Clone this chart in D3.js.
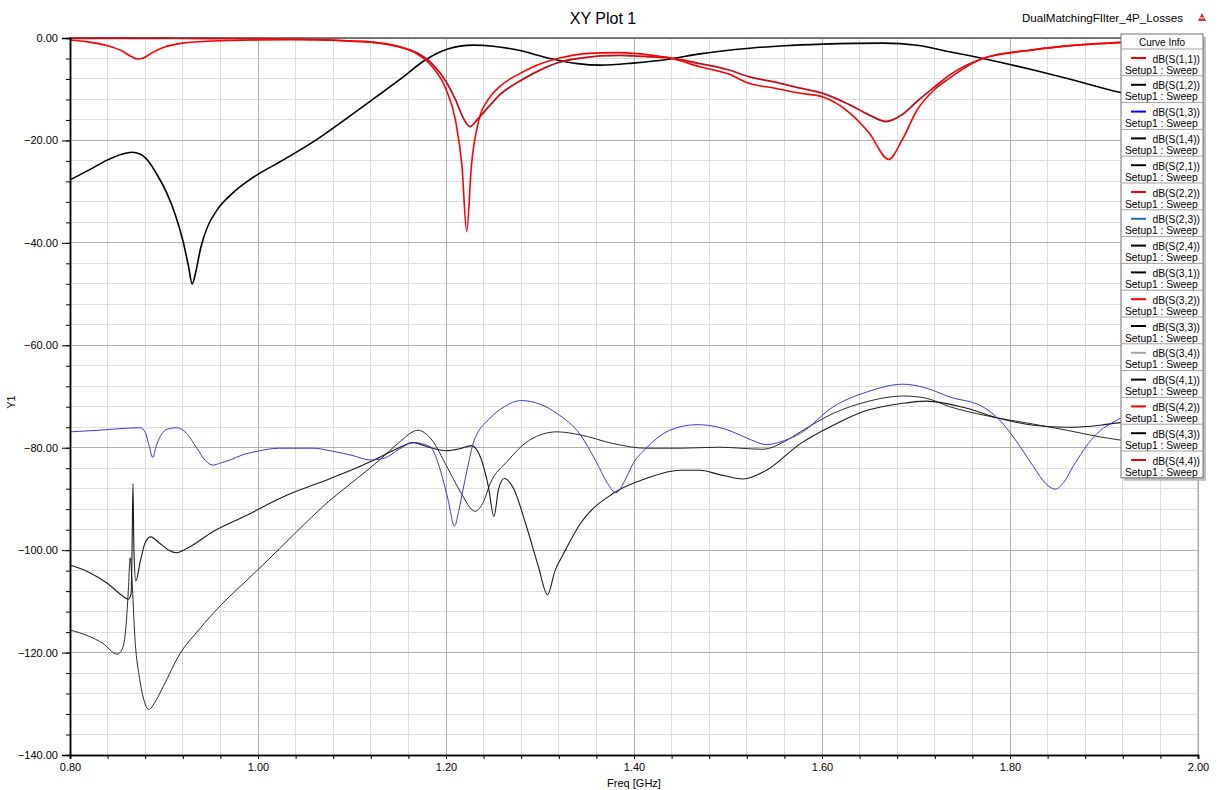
<!DOCTYPE html>
<html><head><meta charset="utf-8">
<script src="https://cdn.jsdelivr.net/npm/d3@7/dist/d3.min.js"></script>
<style>
body{margin:0;background:#fff;}
svg{display:block;font-family:"Liberation Sans",Arial,sans-serif;}
</style>
</head><body>
<svg id="chart" width="1220" height="790"></svg>
<script>
// ---------- data ----------
const xTicks = [0.8, 1.0, 1.2, 1.4, 1.6, 1.8, 2.0];
const yTicks = [0, -20, -40, -60, -80, -100, -120, -140];
const legendNames = ["dB(S(1,1))","dB(S(1,2))","dB(S(1,3))","dB(S(1,4))","dB(S(2,1))","dB(S(2,2))","dB(S(2,3))","dB(S(2,4))",
                     "dB(S(3,1))","dB(S(3,2))","dB(S(3,3))","dB(S(3,4))","dB(S(4,1))","dB(S(4,2))","dB(S(4,3))","dB(S(4,4))"];
const legendColors = ["#ff0000","#000000","#0000ff","#000000","#000000","#ff0000","#1a7aa6","#000000",
                      "#000000","#ff0000","#000000","#a8a8a8","#000000","#ff0000","#000000","#ff0000"];
const sweepLabel = "Setup1 : Sweep";

// reflection (bright red)
const s11 = [[0.800,-0.4],[0.820,-0.8],[0.840,-1.5],[0.855,-2.5],[0.865,-3.6],[0.872,-4.1],[0.878,-3.9],[0.888,-2.8],
  [0.900,-1.8],[0.920,-1.0],[0.950,-0.6],[1.000,-0.4],[1.050,-0.35],[1.100,-0.6],[1.130,-1.0],[1.150,-1.7],[1.170,-3.2],
  [1.185,-5.5],[1.200,-10],[1.210,-16],[1.217,-25],[1.222,-37.8],[1.227,-25],[1.235,-16],[1.245,-12],[1.257,-9.5],
  [1.275,-7.3],[1.293,-5.6],[1.321,-3.9],[1.345,-3.1],[1.364,-2.9],[1.385,-2.85],[1.400,-3.0],[1.420,-3.4],[1.438,-3.9],
  [1.470,-5.6],[1.500,-7.0],[1.523,-8.9],[1.550,-9.8],[1.577,-10.8],[1.601,-11.5],[1.630,-14.7],[1.650,-18.5],[1.671,-23.7],
  [1.685,-20],[1.701,-14.1],[1.720,-10],[1.736,-7.8],[1.771,-4.0],[1.825,-2.3],[1.870,-1.4],[1.914,-0.9],[1.960,-0.6],[2.000,-0.4]];
// reflection (dark red)
const s22 = [[0.800,-0.05],[0.900,-0.05],[0.950,-0.1],[1.000,-0.15],[1.050,-0.25],[1.100,-0.6],[1.130,-1.0],[1.150,-1.7],
  [1.170,-3.0],[1.185,-5.0],[1.200,-8.5],[1.210,-12],[1.218,-15.5],[1.2255,-17.3],[1.233,-16],[1.245,-13.5],[1.257,-11.1],
  [1.275,-8.8],[1.293,-6.9],[1.321,-4.7],[1.345,-3.9],[1.364,-3.5],[1.385,-3.4],[1.400,-3.5],[1.420,-3.7],[1.438,-3.9],
  [1.470,-5.0],[1.500,-6.2],[1.523,-7.6],[1.550,-8.6],[1.577,-9.8],[1.601,-10.8],[1.630,-13.1],[1.650,-15.0],[1.668,-16.3],
  [1.685,-15.0],[1.701,-12.4],[1.720,-9.5],[1.736,-7.2],[1.771,-4.0],[1.825,-2.3],[1.870,-1.4],[1.914,-0.9],[1.960,-0.6],[2.000,-0.4]];
// transmission (black)
const s12 = [[0.800,-27.7],[0.820,-25.8],[0.840,-23.8],[0.855,-22.7],[0.866,-22.3],[0.875,-22.7],[0.884,-24.2],[0.893,-26.8],
  [0.903,-30.3],[0.912,-34.5],[0.920,-39.5],[0.926,-44.5],[0.930,-48.0],[0.934,-45.5],[0.939,-41.0],[0.946,-37.0],[0.956,-33.7],
  [0.973,-30.3],[0.991,-27.7],[1.027,-23.8],[1.062,-19.9],[1.098,-15.2],[1.125,-11.6],[1.151,-8.1],[1.178,-4.3],[1.201,-2.2],[1.229,-1.4],
  [1.250,-1.6],[1.275,-2.3],[1.311,-4.0],[1.340,-5.0],[1.364,-5.3],[1.399,-4.9],[1.435,-4.2],[1.470,-3.1],[1.523,-2.0],
  [1.560,-1.5],[1.601,-1.2],[1.665,-1.0],[1.701,-1.4],[1.736,-2.7],[1.771,-4.0],[1.825,-6.25],[1.861,-7.9],[1.914,-10.5],
  [1.960,-12.2],[2.000,-13.6]];
// isolation (blue)
const s13 = [[0.800,-76.9],[0.830,-76.6],[0.860,-76.2],[0.875,-76.1],[0.880,-77],[0.884,-79.5],[0.888,-81.9],[0.892,-79.5],
  [0.898,-77.2],[0.905,-76.3],[0.913,-76.1],[0.922,-76.8],[0.935,-80.1],[0.944,-82.5],[0.952,-83.4],[0.960,-83.0],[0.970,-82.4],
  [0.985,-81.3],[0.999,-80.7],[1.023,-80.1],[1.059,-80.1],[1.077,-80.6],[1.100,-81.5],[1.120,-82.4],[1.135,-82.0],[1.150,-80.3],
  [1.165,-79.0],[1.183,-79.8],[1.194,-84.4],[1.202,-90],[1.209,-95.3],[1.214,-92],[1.218,-88.3],[1.224,-83],[1.229,-79.1],
  [1.247,-74.2],[1.262,-72.0],[1.280,-70.8],[1.300,-71.5],[1.318,-73.3],[1.343,-77.5],[1.360,-82.8],[1.372,-87],[1.381,-88.8],
  [1.390,-86.5],[1.399,-83.1],[1.413,-80.1],[1.438,-76.6],[1.467,-75.5],[1.490,-76.0],[1.505,-76.9],[1.525,-78.5],[1.541,-79.4],
  [1.560,-78.6],[1.577,-77.2],[1.612,-72.0],[1.648,-69.1],[1.686,-67.6],[1.710,-68.3],[1.736,-70.1],[1.771,-72.0],[1.789,-74.6],
  [1.807,-78.8],[1.825,-83.7],[1.838,-87],[1.848,-88.1],[1.857,-86.8],[1.867,-83.7],[1.889,-77.9],[1.917,-74.3],[1.950,-72.0],[2.000,-70.5]];
// isolation (dark, upper-left start)
const s24 = [[0.800,-102.9],[0.820,-104.3],[0.840,-106.5],[0.855,-108.8],[0.862,-109.6],[0.865,-108.5],[0.866,-100],[0.867,-87.0],
  [0.868,-100],[0.870,-106],[0.875,-102],[0.880,-98.5],[0.886,-97.4],[0.895,-98.6],[0.905,-100.0],[0.913,-100.5],[0.925,-99.6],
  [0.952,-96.4],[0.988,-93.2],[1.023,-89.9],[1.077,-86.0],[1.110,-83.5],[1.130,-81.8],[1.150,-80.0],[1.165,-79.0],[1.180,-79.8],
  [1.200,-80.6],[1.215,-80.2],[1.227,-79.6],[1.237,-82],[1.245,-87.5],[1.251,-93.4],[1.256,-88],[1.262,-86.0],[1.272,-88],
  [1.285,-95],[1.298,-103],[1.308,-108.7],[1.316,-104],[1.325,-100.7],[1.343,-94.8],[1.378,-88.9],[1.413,-86.0],[1.449,-84.4],
  [1.470,-84.4],[1.490,-85.2],[1.516,-86.1],[1.541,-84.4],[1.577,-79.2],[1.612,-75.6],[1.648,-72.7],[1.683,-71.4],[1.711,-70.9],
  [1.754,-72.3],[1.789,-74.3],[1.825,-75.6],[1.861,-76.0],[1.896,-75.6],[1.917,-75.1],[1.960,-74.7],[2.000,-74.3]];
// isolation (dark, lower-left start)
const s14 = [[0.800,-115.6],[0.820,-116.8],[0.835,-118.2],[0.850,-120.3],[0.855,-119.5],[0.859,-116],[0.862,-108],[0.864,-101.5],
  [0.866,-106],[0.869,-117],[0.874,-125],[0.879,-129.5],[0.884,-131.1],[0.890,-129.8],[0.899,-126.7],[0.917,-120.2],[0.935,-116.0],
  [0.952,-112.4],[0.970,-109.0],[0.988,-105.9],[1.023,-99.7],[1.050,-94.8],[1.077,-90.2],[1.100,-86.8],[1.130,-82.3],[1.150,-79.0],
  [1.170,-76.6],[1.185,-78.5],[1.201,-83.7],[1.215,-88.5],[1.231,-92.4],[1.240,-90.5],[1.247,-87.0],[1.265,-82.7],[1.289,-78.5],
  [1.318,-76.9],[1.343,-77.5],[1.378,-79.2],[1.413,-80.1],[1.449,-80.1],[1.490,-79.9],[1.537,-80.3],[1.560,-78.8],[1.577,-76.9],
  [1.612,-73.3],[1.648,-71.0],[1.686,-69.9],[1.710,-70.3],[1.736,-72.0],[1.771,-73.6],[1.825,-75.4],[1.861,-76.6],[1.896,-77.9],
  [1.917,-78.5],[1.960,-79.3],[2.000,-80.0]];

// ---------- drawing ----------
const svg = d3.select("#chart");
const L = 70, R = 1198, T = 38, B = 755;
const x = d3.scaleLinear().domain([0.8, 2.0]).range([L, R]);
const y = d3.scaleLinear().domain([-140, 0]).range([B, T]);
const fmt = d3.format(".2f");
const xMinor = d3.range(0, 31).map(i => 0.8 + i * 0.04);
const yMinor = d3.range(0, 36).map(i => -140 + i * 4);

// grid
const grid = svg.append("g");
grid.selectAll("line.vx").data(xMinor).join("line")
  .attr("x1", d => x(d)).attr("x2", d => x(d)).attr("y1", T).attr("y2", B)
  .attr("stroke", "#dedede").attr("stroke-width", 1).attr("shape-rendering","crispEdges");
grid.selectAll("line.hy").data(yMinor).join("line")
  .attr("x1", L).attr("x2", R).attr("y1", d => y(d)).attr("y2", d => y(d))
  .attr("stroke", "#dedede").attr("stroke-width", 1).attr("shape-rendering","crispEdges");
grid.selectAll("line.vX").data(xTicks).join("line")
  .attr("x1", d => x(d)).attr("x2", d => x(d)).attr("y1", T).attr("y2", B)
  .attr("stroke", "#b0b0b0").attr("stroke-width", 1).attr("shape-rendering","crispEdges");
grid.selectAll("line.hY").data(yTicks).join("line")
  .attr("x1", L).attr("x2", R).attr("y1", d => y(d)).attr("y2", d => y(d))
  .attr("stroke", "#b0b0b0").attr("stroke-width", 1).attr("shape-rendering","crispEdges");
// top / right frame
svg.append("line").attr("x1", L).attr("x2", R).attr("y1", T).attr("y2", T)
  .attr("stroke", "#555").attr("stroke-width", 1.5);
svg.append("line").attr("x1", R).attr("x2", R).attr("y1", T).attr("y2", B)
  .attr("stroke", "#a8a8a8").attr("stroke-width", 1);

// curves
svg.append("defs").append("clipPath").attr("id","clip").append("rect")
  .attr("x", L).attr("y", T - 2).attr("width", R - L).attr("height", B - T + 2);
const line = d3.line().x(d => x(d[0])).y(d => y(d[1])).curve(d3.curveMonotoneX);
const curves = [
  {data: s14, color: "#2a2a2a", w: 1},
  {data: s24, color: "#1a1a1a", w: 1.1},
  {data: s13, color: "#3a3ae0", w: 1},
  {data: s12, color: "#000000", w: 1.6},
  {data: s22, color: "#c0101e", w: 1.8},
  {data: s11, color: "#ff0000", w: 1.6}
];
const cg = svg.append("g").attr("clip-path", "url(#clip)");
cg.selectAll("path").data(curves).join("path")
  .attr("d", d => line(d.data)).attr("fill", "none")
  .attr("stroke", d => d.color).attr("stroke-width", d => d.w).attr("stroke-linejoin","round");

// axes
const yAxis = d3.axisLeft(y).tickValues(yTicks).tickFormat(fmt).tickSize(8).tickPadding(4);
const yG = svg.append("g").attr("transform", `translate(${L},0)`).call(yAxis);
const yMinG = svg.append("g").attr("transform", `translate(${L},0)`)
  .call(d3.axisLeft(y).tickValues(yMinor).tickFormat("").tickSize(4));
const xAxis = d3.axisBottom(x).tickValues(xTicks).tickFormat(fmt).tickSize(4).tickPadding(4);
const xG = svg.append("g").attr("transform", `translate(0,${B})`).call(xAxis);
const xMinG = svg.append("g").attr("transform", `translate(0,${B})`)
  .call(d3.axisBottom(x).tickValues(xMinor).tickFormat("").tickSize(4));
[yG, yMinG, xG, xMinG].forEach(g => {
  g.select(".domain").attr("stroke", "#000").attr("stroke-width", 1.5);
  g.selectAll(".tick line").attr("stroke", "#000");
  g.selectAll("text").attr("font-family", '"Liberation Sans",Arial,sans-serif').attr("font-size", 11).attr("fill", "#000");
});

// titles
svg.append("text").attr("x", 603).attr("y", 24).attr("text-anchor", "middle")
  .attr("font-size", 16).text("XY Plot 1");
svg.append("text").attr("x", 1183).attr("y", 22).attr("text-anchor", "end")
  .attr("font-size", 11.6).text("DualMatchingFIlter_4P_Losses");
// small logo
svg.append("path").attr("d", "M1202,13 L1206,21 L1198,21 Z").attr("fill", "#d03030");
svg.append("path").attr("d", "M1200,18 L1204,18").attr("stroke", "#fff").attr("stroke-width", 1);
svg.append("text").attr("transform", "translate(15,402) rotate(-90)").attr("text-anchor", "middle")
  .attr("font-size", 11).text("Y1");
svg.append("text").attr("x", 634).attr("y", 787).attr("text-anchor", "middle")
  .attr("font-size", 11).text("Freq [GHz]");

// legend
const lgX = 1121, lgY = 34, lgW = 82, hdr = 15, rowH = 26.8;
const lgH = hdr + rowH * legendNames.length;
const lg = svg.append("g");
lg.append("rect").attr("x", lgX + 3).attr("y", lgY + 3).attr("width", lgW).attr("height", lgH).attr("fill", "#bdbdbd");
lg.append("rect").attr("x", lgX).attr("y", lgY).attr("width", lgW).attr("height", lgH)
  .attr("fill", "#fff").attr("stroke", "#707070").attr("stroke-width", 1);
lg.append("text").attr("x", lgX + lgW / 2).attr("y", lgY + 11.5).attr("text-anchor", "middle")
  .attr("font-size", 10).text("Curve Info");
const rows = lg.selectAll("g.row").data(legendNames).join("g")
  .attr("transform", (d, i) => `translate(${lgX},${lgY + hdr + i * rowH})`);
rows.append("line").attr("x1", 0).attr("x2", lgW).attr("y1", 0).attr("y2", 0)
  .attr("stroke", "#a0a0a0").attr("stroke-width", 1);
rows.append("line").attr("x1", 10).attr("x2", 25).attr("y1", 9).attr("y2", 9)
  .attr("stroke", (d, i) => legendColors[i]).attr("stroke-width", 2);
rows.append("text").attr("x", lgW - 3).attr("y", 13.5).attr("text-anchor", "end")
  .attr("font-size", 10.3).text(d => d);
rows.append("text").attr("x", 4).attr("y", 24.5).attr("font-size", 10.3).text(sweepLabel);
</script>
</body></html>
